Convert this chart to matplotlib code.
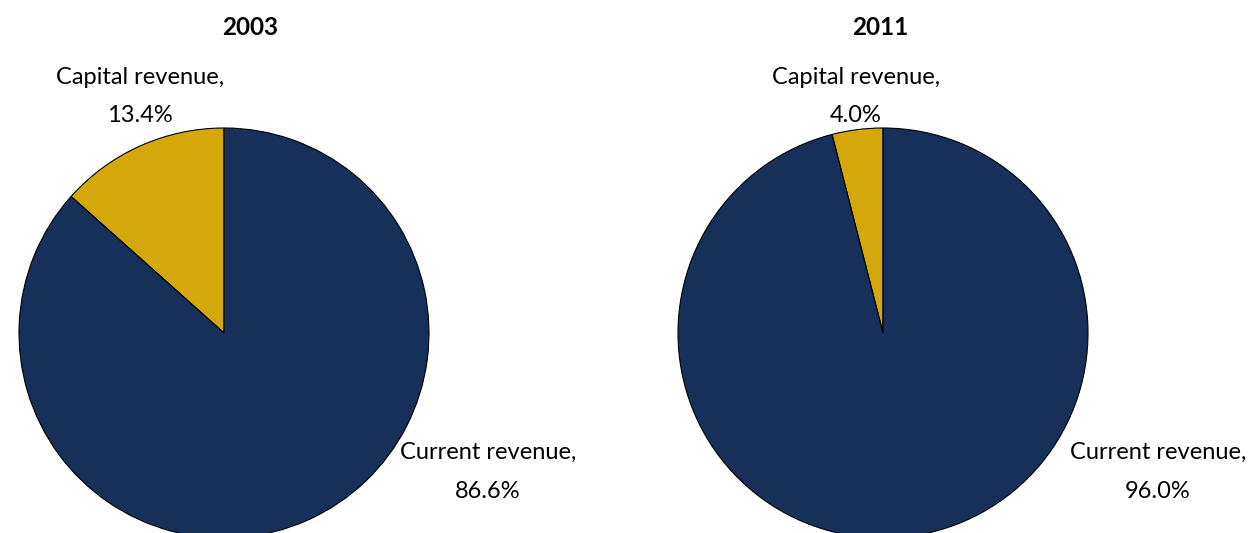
import matplotlib.pyplot as plt

plt.rcParams['font.family'] = ['Lato', 'DejaVu Sans']

YEARS = ['2003', '2011']
CATEGORIES = ['Capital revenue', 'Current revenue']
CAPITAL_SHARE = [13.4, 4.0]
CURRENT_SHARE = [86.6, 96.0]
COLORS = ['#D4A80A', '#17305A']

W, H = 1251, 533
RADIUS_PX = 205
CENTERS_PX = [(224, 333), (883, 333)]  # pie centres in image pixels (from top-left)

# label positions in pie-radius units, relative to the pie centre
CAPITAL_LABEL_POS = [(-0.41, 1.154), (-0.132, 1.154)]
CURRENT_LABEL_POS = [(1.288, -0.676), (1.341, -0.676)]
TITLE_POS = [(0.127, 1.49), (-0.015, 1.49)]


def main():
    fig = plt.figure(figsize=(W / 100, H / 100), dpi=100)

    for i, year in enumerate(YEARS):
        cx, cy = CENTERS_PX[i]
        ax = fig.add_axes([(cx - RADIUS_PX) / W, (H - cy - RADIUS_PX) / H,
                           2 * RADIUS_PX / W, 2 * RADIUS_PX / H])
        wedges, _ = ax.pie([CAPITAL_SHARE[i], CURRENT_SHARE[i]], colors=COLORS,
                           startangle=90, counterclock=True, radius=1,
                           wedgeprops=dict(edgecolor='black', linewidth=0.8))
        for w in wedges:
            w.set_clip_on(False)
        ax.set_xlim(-1, 1)
        ax.set_ylim(-1, 1)
        ax.set_aspect('equal')
        ax.axis('off')

        x, y = CAPITAL_LABEL_POS[i]
        ax.text(x, y, f'{CATEGORIES[0]},\n{CAPITAL_SHARE[i]:.1f}%', ha='center', va='center',
                fontsize=17, linespacing=2.05, clip_on=False)
        x, y = CURRENT_LABEL_POS[i]
        ax.text(x, y, f'{CATEGORIES[1]},\n{CURRENT_SHARE[i]:.1f}%', ha='center', va='center',
                fontsize=17, linespacing=2.05, clip_on=False)
        x, y = TITLE_POS[i]
        ax.text(x, y, year, ha='center', va='center', fontsize=17.5, fontweight='bold', clip_on=False)

    plt.savefig('out.png', dpi=100)


if __name__ == '__main__':
    main()
